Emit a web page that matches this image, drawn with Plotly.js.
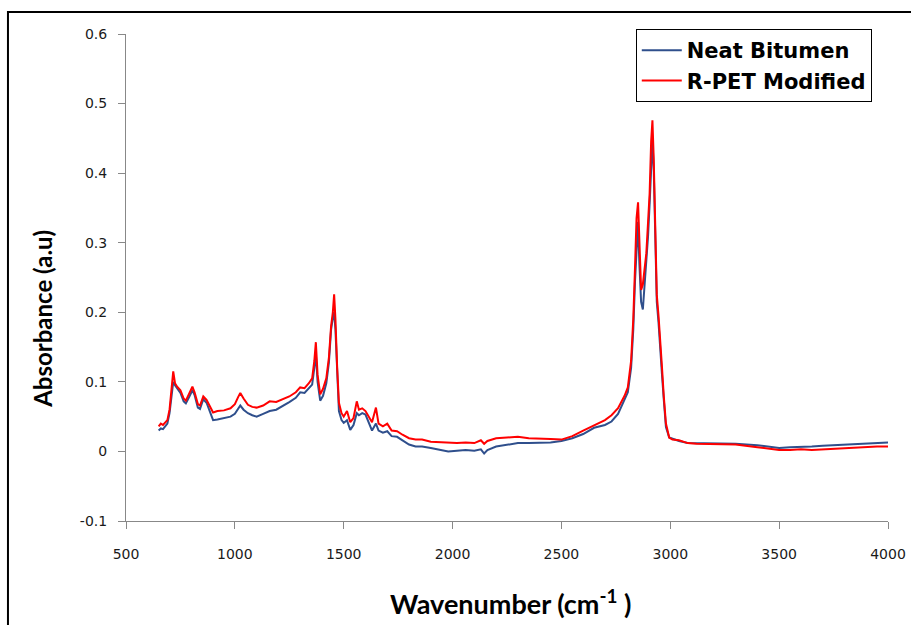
<!DOCTYPE html>
<html>
<head>
<meta charset="utf-8">
<script src="https://cdn.plot.ly/plotly-3.0.1.min.js"></script>
<style>html,body{margin:0;padding:0;background:#fff;}#chart{width:911px;height:625px;}</style>
</head>
<body>
<div id="chart"></div>
<script>
// Wavenumber (cm-1) sample positions
const wavenumber = [650,660,670,680,690,700,710,717,725,735,750,765,775,790,805,815,830,840,855,870,885,900,920,950,980,1000,1015,1025,1040,1060,1080,1100,1130,1160,1190,1220,1250,1280,1300,1320,1340,1355,1365,1372,1380,1392,1405,1420,1432,1442,1450,1456,1462,1470,1478,1490,1500,1515,1530,1545,1560,1570,1585,1600,1615,1630,1648,1660,1680,1700,1720,1745,1770,1800,1830,1860,1900,1940,1980,2020,2060,2100,2130,2145,2160,2200,2250,2300,2350,2400,2450,2500,2550,2600,2650,2700,2730,2760,2790,2805,2820,2830,2838,2845,2852,2858,2866,2874,2882,2890,2898,2905,2912,2918,2924,2930,2938,2946,2955,2962,2970,2980,2995,3010,3040,3080,3120,3200,3300,3400,3450,3500,3550,3600,3650,3700,3750,3800,3850,3900,3950,4000];

const neatBitumen = [0.030,0.033,0.032,0.036,0.040,0.055,0.088,0.100,0.095,0.090,0.084,0.072,0.069,0.078,0.088,0.081,0.063,0.061,0.075,0.070,0.058,0.045,0.046,0.048,0.050,0.054,0.062,0.066,0.060,0.055,0.052,0.050,0.054,0.058,0.060,0.065,0.071,0.077,0.085,0.084,0.090,0.096,0.120,0.140,0.100,0.073,0.080,0.098,0.128,0.175,0.192,0.200,0.175,0.110,0.058,0.045,0.041,0.045,0.031,0.038,0.055,0.052,0.055,0.053,0.040,0.030,0.040,0.030,0.027,0.029,0.022,0.021,0.016,0.010,0.007,0.007,0.005,0.002,0.000,0.001,0.002,0.001,0.003,-0.003,0.002,0.007,0.010,0.012,0.012,0.012,0.013,0.015,0.019,0.025,0.034,0.038,0.043,0.054,0.075,0.085,0.120,0.175,0.245,0.300,0.330,0.270,0.215,0.204,0.240,0.270,0.310,0.355,0.420,0.448,0.405,0.330,0.215,0.185,0.150,0.110,0.075,0.035,0.020,0.018,0.015,0.012,0.012,0.012,0.011,0.009,0.007,0.005,0.006,0.006,0.007,0.008,0.009,0.010,0.011,0.012,0.013,0.013];

const rpetModified = [0.036,0.040,0.038,0.042,0.045,0.060,0.095,0.115,0.098,0.093,0.088,0.076,0.073,0.083,0.093,0.085,0.068,0.066,0.079,0.074,0.065,0.056,0.058,0.059,0.062,0.068,0.078,0.084,0.076,0.067,0.064,0.063,0.066,0.072,0.071,0.075,0.079,0.085,0.092,0.091,0.098,0.105,0.130,0.157,0.110,0.082,0.090,0.105,0.135,0.180,0.200,0.226,0.190,0.120,0.070,0.055,0.050,0.058,0.042,0.048,0.072,0.060,0.062,0.058,0.050,0.042,0.063,0.040,0.036,0.040,0.030,0.029,0.024,0.019,0.017,0.017,0.014,0.013,0.012,0.012,0.013,0.012,0.016,0.011,0.015,0.019,0.020,0.021,0.019,0.019,0.018,0.017,0.022,0.030,0.038,0.045,0.052,0.062,0.080,0.092,0.130,0.190,0.265,0.335,0.358,0.300,0.232,0.240,0.262,0.285,0.330,0.370,0.445,0.476,0.420,0.340,0.225,0.195,0.160,0.120,0.080,0.040,0.020,0.017,0.016,0.012,0.011,0.011,0.010,0.006,0.004,0.002,0.002,0.003,0.002,0.003,0.004,0.005,0.005,0.006,0.007,0.007];

const seriesNames = ["Neat Bitumen", "R-PET Modified"];
const xTicks = [500,1000,1500,2000,2500,3000,3500,4000];
const yTicks = [-0.1,0,0.1,0.2,0.3,0.4,0.5,0.6];
const yTickText = ["-0.1","0","0.1","0.2","0.3","0.4","0.5","0.6"];

const traces = [
  {x: wavenumber, y: neatBitumen, name: seriesNames[0], type: "scatter", mode: "lines",
   line: {color: "#2F4F8C", width: 2}, legendgroup: "a"},
  {x: wavenumber, y: rpetModified, name: seriesNames[1], type: "scatter", mode: "lines",
   line: {color: "#FF0000", width: 2}, legendgroup: "b"}
];

const tickFont = {family: "DejaVu Sans, sans-serif", size: 14, color: "#1a1a1a"};

const layout = {
  width: 911, height: 625,
  margin: {l: 126, r: 23, t: 34, b: 104},
  paper_bgcolor: "#fff", plot_bgcolor: "#fff",
  showlegend: true,
  legend: {x: 0.669, y: 1.01, xanchor: "left", yanchor: "top",
    bordercolor: "#000", borderwidth: 1, bgcolor: "#fff",
    font: {family: "DejaVu Sans, sans-serif", size: 21, color: "#000", weight: "bold"},
    itemwidth: 40, tracegroupgap: 0, traceorder: "grouped"},
  xaxis: {range: [500, 4000], tickvals: xTicks, ticktext: xTicks.map(String),
    showgrid: false, zeroline: false, showline: true, linecolor: "#888", linewidth: 1,
    ticks: "outside", ticklen: 7, tickcolor: "#888", tickfont: tickFont, ticklabelstandoff: 13},
  yaxis: {range: [-0.1, 0.6], tickvals: yTicks, ticktext: yTickText,
    showgrid: false, zeroline: false, showline: true, linecolor: "#888", linewidth: 1,
    ticks: "outside", ticklen: 7, tickcolor: "#888", tickfont: tickFont, ticklabelstandoff: 8},
  annotations: [
    {xref: "paper", yref: "paper", x: -0.109, y: 0.415, text: "Absorbance (a.u)", textangle: -90,
     showarrow: false, xanchor: "center", yanchor: "middle",
     font: {family: "Lato, sans-serif", size: 24, color: "#000", weight: "bold"}},
    {xref: "paper", yref: "paper", x: 0.505, y: -0.166, text: "Wavenumber (cm<sup>-1</sup> )",
     showarrow: false, xanchor: "center", yanchor: "middle",
     font: {family: "Lato, sans-serif", size: 27, color: "#000", weight: "bold"}}
  ],
  shapes: [
    {type: "rect", xref: "paper", yref: "paper", x0: -0.1549, x1: 1.04, y0: -0.25, y1: 1.0452,
     line: {color: "#000", width: 2}, fillcolor: "rgba(0,0,0,0)", layer: "below"}
  ]
};

Plotly.newPlot("chart", traces, layout, {displayModeBar: false, staticPlot: true});
</script>
</body>
</html>
